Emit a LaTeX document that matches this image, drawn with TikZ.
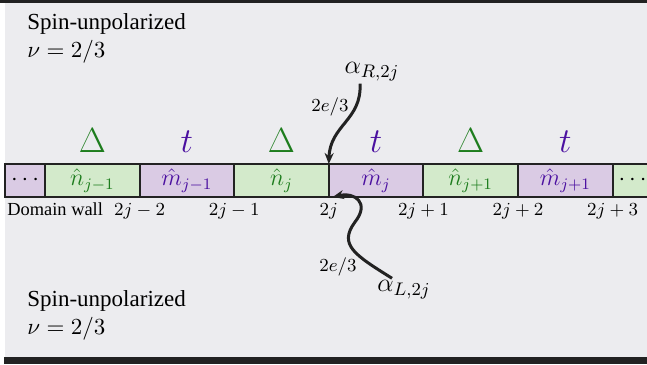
\RequirePackage{fix-cm}
\documentclass[tikz,border=0pt]{standalone}
\usepackage[no-math]{fontspec}
\setmainfont{Liberation Serif}
\usetikzlibrary{arrows.meta, positioning}
\definecolor{fondoGris}{HTML}{ECECEF}
\definecolor{bordeOscuro}{HTML}{222222}
\definecolor{verdeDelta}{HTML}{1E7D1E}
\definecolor{moradoT}{HTML}{4B10A0}
\colorlet{colN}{verdeDelta}
\colorlet{colM}{moradoT}
\definecolor{colCajaN}{HTML}{D3EACB}
\definecolor{colCajaM}{HTML}{DACBE4}
\tikzset{
  cajaBase/.style={
    draw=bordeOscuro, line width=1pt, inner sep=0pt, outer sep=0pt,
    minimum height=16.5pt, minimum width=47.3pt,
    font=\fontsize{12}{14}\selectfont
  },
  cajaN/.style={cajaBase, fill=colCajaN, text=colN},
  cajaM/.style={cajaBase, fill=colCajaM, text=colM},
  cajaPuntos/.style={cajaBase, minimum width=20pt, text=black},
  etiquetaDelta/.style={font=\fontsize{17.5}{20}\selectfont, text=colN, inner sep=1pt},
  etiquetaT/.style={font=\fontsize{17.5}{20}\selectfont, text=colM, inner sep=1pt},
  etiquetaSitio/.style={font=\fontsize{9.2}{11}\selectfont, inner sep=1pt},
  etiquetaCarga/.style={font=\fontsize{9.2}{11}\selectfont, inner sep=1pt},
  etiquetaAlfa/.style={font=\fontsize{13}{15}\selectfont, inner sep=1pt},
  textoFase/.style={font=\fontsize{11.5}{14}\selectfont, align=left, inner sep=0pt},
  flecha/.style={-{Stealth[length=5.5pt, width=4.5pt]}, line width=1.5pt, bordeOscuro},
}
\begin{document}
\begin{tikzpicture}[x=0.5pt, y=-0.5pt]
    \useasboundingbox (0,0) rectangle (647,364);
    % fondo y bordes
    \fill[fondoGris] (5,3) rectangle (647,357);
    \fill[bordeOscuro] (0,0) rectangle (647,3);
    \fill[bordeOscuro] (4,357) rectangle (647,364);

    % cadena de sitios
    \node[cajaPuntos, fill=colCajaM] (puntosIzq) at (25,180.5) {$\cdots$};
    \node[cajaN, right=0pt of puntosIzq] (n1) {$\hat{n}_{j-1}$};
    \node[cajaM, right=0pt of n1] (m1) {$\hat{m}_{j-1}$};
    \node[cajaN, right=0pt of m1] (n2) {$\hat{n}_{j}$};
    \node[cajaM, right=0pt of n2] (m2) {$\hat{m}_{j}$};
    \node[cajaN, right=0pt of m2] (n3) {$\hat{n}_{j+1}$};
    \node[cajaM, right=0pt of n3] (m3) {$\hat{m}_{j+1}$};
    \node[cajaPuntos, fill=colCajaN, right=0pt of m3] (puntosDer) {$\cdots$};

    % acoplamientos
    \node[etiquetaDelta, above=4.5pt of n1] (delta1) {$\Delta$};
    \node[etiquetaT, above=4.5pt of m1] (t1) {$t$};
    \node[etiquetaDelta, above=4.5pt of n2] (delta2) {$\Delta$};
    \node[etiquetaT, above=4.5pt of m2] (t2) {$t$};
    \node[etiquetaDelta, above=4.5pt of n3] (delta3) {$\Delta$};
    \node[etiquetaT, above=4.5pt of m3] (t3) {$t$};

    % posiciones de las paredes
    \node[etiquetaSitio, below=2pt of n1.south east] (s1) {$2j-2$};
    \node[etiquetaSitio, below=2pt of m1.south east] (s2) {$2j-1$};
    \node[etiquetaSitio, below=2pt of n2.south east] (s3) {$2j$};
    \node[etiquetaSitio, below=2pt of m2.south east] (s4) {$2j+1$};
    \node[etiquetaSitio, below=2pt of n3.south east] (s5) {$2j+2$};
    \node[etiquetaSitio, below=2pt of m3.south east] (s6) {$2j+3$};
    \node[etiquetaSitio, anchor=base west] (pared) at (puntosIzq.west |- s1.base) {Domain wall};

    % fases
    \node[textoFase, anchor=north west] (faseSup) at (27,13) {Spin-unpolarized\\$\nu=2/3$};
    \node[textoFase, anchor=north west] (faseInf) at (27,290) {Spin-unpolarized\\$\nu=2/3$};

    % operadores de tunelamiento
    \node[etiquetaAlfa] (alfaR) at (372,72) {$\alpha_{R,2j}$};
    \node[etiquetaCarga] (cargaR) at (330,107) {$2e/3$};
    \draw[flecha] ([xshift=-6pt]alfaR.south) .. controls (362,120) and (330,125) .. (n2.north east);

    \node[etiquetaAlfa] (alfaL) at (404,290) {$\alpha_{L,2j}$};
    \node[etiquetaCarga] (cargaL) at (338,267) {$2e/3$};
    \draw[flecha] ([xshift=-6pt]alfaL.north) .. controls (355,255) and (338,245) .. (355,222)
      .. controls (370,203) and (355,192) .. ([xshift=2pt]n2.south east);
\end{tikzpicture}
\end{document}
